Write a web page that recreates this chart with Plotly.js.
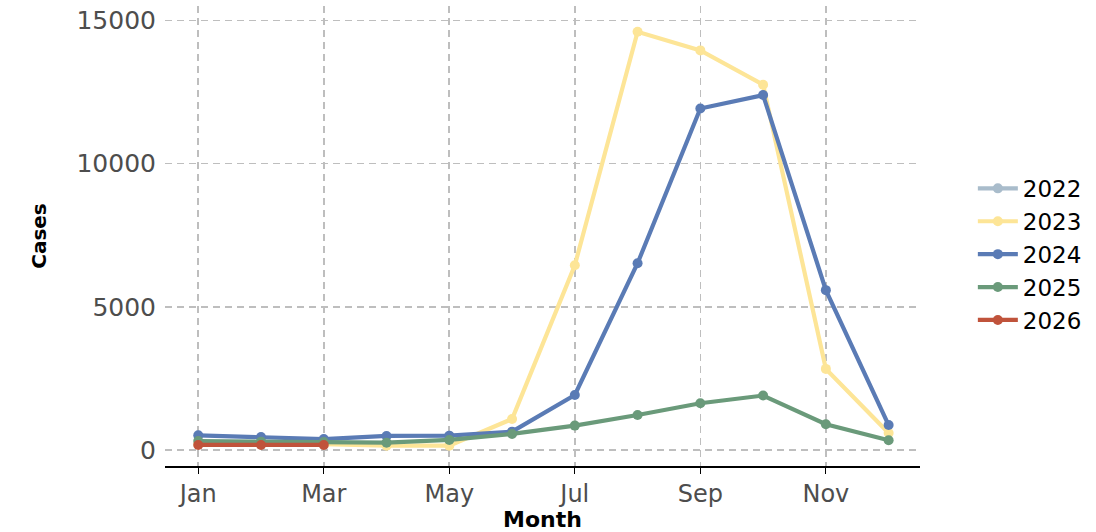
<!DOCTYPE html>
<html>
<head>
<meta charset="utf-8">
<script src="https://cdn.plot.ly/plotly-3.0.1.min.js"></script>
<style>
  html, body { margin: 0; padding: 0; background: #fff; }
  #chart { width: 1096px; height: 532px; }
</style>
</head>
<body>
<div id="chart"></div>
<script>
"use strict";

const months = [1, 2, 3, 4, 5, 6, 7, 8, 9, 10, 11, 12];
const tickMonths = [1, 3, 5, 7, 9, 11];
const tickLabels = ["Jan", "Mar", "May", "Jul", "Sep", "Nov"];
const caseTicks = [0, 5000, 10000, 15000];
const caseTickLabels = ["0", "5000", "10000", "15000"];

const years = ["2022", "2023", "2024", "2025", "2026"];
const colors = ["#A9BCCB", "#FDE597", "#5A7BB5", "#6A9A7A", "#C0533B"];

const cases2022 = [null, null, null, null, null, null, null, null, null, null, null, null];
const cases2023 = [200, 200, 200, 150, 150, 1080, 6450, 14600, 13950, 12750, 2830, 590];
const cases2024 = [510, 450, 380, 490, 500, 640, 1920, 6520, 11920, 12390, 5580, 870];
const cases2025 = [310, 290, 280, 255, 350, 560, 850, 1220, 1630, 1900, 900, 340];
const cases2026 = [175, 175, 175];

const allCases = [cases2022, cases2023, cases2024, cases2025, cases2026];

const traces = years.map(function (year, i) {
    const y = allCases[i];
    return {
        x: months.slice(0, y.length),
        y: y,
        name: year,
        type: "scatter",
        mode: "lines+markers",
        line: { color: colors[i], width: 4.2 },
        marker: { color: colors[i], size: 10 }
    };
});

const layout = {
    width: 1096,
    height: 532,
    margin: { l: 165, r: 176, t: 6, b: 66 },
    paper_bgcolor: "#ffffff",
    plot_bgcolor: "#ffffff",
    font: { family: "DejaVu Sans, sans-serif", color: "#4D4D4D" },
    showlegend: true,
    legend: {
        x: 1.07,
        y: 0.46,
        yanchor: "middle",
        xanchor: "left",
        font: { size: 23, color: "#000000" },
        itemwidth: 40,
        tracegroupgap: 0
    },
    xaxis: {
        range: [0.47, 12.5],
        tickvals: tickMonths,
        ticktext: tickLabels,
        tickfont: { size: 24, color: "#4D4D4D" },
        showgrid: true,
        gridcolor: "#BEBEBE",
        griddash: "7px,5px",
        gridwidth: 1.6,
        zeroline: false,
        showline: true,
        linecolor: "#000000",
        linewidth: 1.6,
        ticks: "outside",
        ticklen: 6,
        tickcolor: "#000000",
        ticklabelstandoff: 0,
        title: { text: "Month", font: { size: 22, color: "#000000", weight: "bold" }, standoff: 2 }
    },
    yaxis: {
        range: [-560, 15500],
        tickvals: caseTicks,
        ticktext: caseTickLabels,
        tickfont: { size: 25, color: "#4D4D4D" },
        showgrid: true,
        gridcolor: "#BEBEBE",
        griddash: "7px,5px",
        gridwidth: 1.6,
        zeroline: false,
        showline: false,
        ticks: "",
        ticklabelstandoff: 8,
        title: { text: "Cases", font: { size: 20, color: "#000000", weight: "bold" }, standoff: 24 }
    }
};

Plotly.newPlot("chart", traces, layout, { displayModeBar: false, staticPlot: true });
</script>
</body>
</html>
